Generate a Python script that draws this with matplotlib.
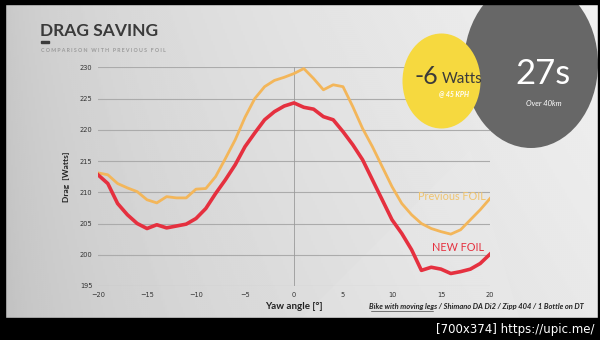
import numpy as np
import matplotlib
matplotlib.use("Agg")
import matplotlib.pyplot as plt
from matplotlib.patches import Ellipse, Rectangle, Polygon

# yaw angle in degrees and drag in watts
yaw = list(range(-20, 21))
previous_foil = [213.1, 212.8, 211.4, 210.7, 210.1, 208.8, 208.3, 209.3, 209.1, 209.1,
                 210.5, 210.6, 212.5, 215.4, 218.4, 222.0, 225.0, 226.9, 227.9, 228.4,
                 229.0, 229.8, 228.2, 226.4, 227.2, 226.9, 223.7, 220.2, 217.3, 214.1,
                 210.9, 208.2, 206.4, 205.0, 204.2, 203.7, 203.3, 204.0, 205.6, 207.2,
                 209.0]
new_foil = [212.8, 211.4, 208.2, 206.4, 205.0, 204.2, 204.8, 204.3, 204.6, 204.9,
            205.8, 207.4, 209.8, 212.0, 214.4, 217.3, 219.5, 221.6, 222.9, 223.8,
            224.3, 223.6, 223.3, 222.1, 221.6, 219.7, 217.6, 215.2, 212.0, 208.8,
            205.6, 203.4, 200.8, 197.5, 198.0, 197.7, 197.0, 197.3, 197.7, 198.6,
            200.1]
x_ticks = [-20, -15, -10, -5, 0, 5, 10, 15, 20]
y_ticks = [195, 200, 205, 210, 215, 220, 225, 230]

ORANGE = "#f3b65a"
RED = "#e5303f"
DARK = "#3a3a3a"
FONT = ["Lato", "DejaVu Sans"]

fig = plt.figure(figsize=(6, 3.4), dpi=100)

# background gradient
bg = fig.add_axes([0, 0, 1, 1], zorder=0)
gx = np.linspace(0, 1, 300)
gy = np.linspace(0, 1, 170)
GX, GY = np.meshgrid(gx, gy)
shade = 0.77 + 0.17 * np.sqrt(GX) - 0.03 * GY
bg.imshow(shade, cmap="gray", vmin=0, vmax=1, aspect="auto",
          extent=[0, 600, 340, 0], interpolation="bilinear")
bg.add_patch(Polygon([[300, 320], [470, 150], [520, 320]], closed=True,
                     facecolor="white", alpha=0.08, edgecolor="none"))
bg.set_xlim(0, 600)
bg.set_ylim(340, 0)
bg.axis("off")

# main chart
ax = fig.add_axes([98 / 600, 54 / 340, 392 / 600, 218.7 / 340], zorder=2)
ax.set_facecolor("none")
for y in y_ticks:
    ax.axhline(y, color="#ababab", lw=0.8, zorder=1)
ax.axvline(0, color="#9a9a9a", lw=0.6, zorder=1)
ax.plot(yaw, previous_foil, color=ORANGE, lw=2.0, zorder=3, solid_joinstyle="round")
ax.plot(yaw, new_foil, color=RED, lw=2.6, zorder=4, solid_joinstyle="round")
ax.set_xlim(-20, 20)
ax.set_ylim(195, 230)
ax.set_xticks(x_ticks)
ax.set_yticks(y_ticks)
ax.tick_params(length=0, labelsize=4.8, labelcolor="#333333", pad=4)
for s in ax.spines.values():
    s.set_visible(False)
ax.set_xlabel("Yaw angle [°]", fontsize=7, fontweight="bold", color="#222222",
              family=FONT, labelpad=3)
ax.set_ylabel("Drag  [Watts]", fontsize=6, fontweight="bold", color="#222222",
              family=FONT, labelpad=7)
ax.text(19.6, 209.4, "Previous FOIL", color="#f0c46e", fontsize=7.8, ha="right",
        va="center", family=FONT, zorder=5)
ax.text(19.4, 201.1, "NEW FOIL", color=RED, fontsize=7.8, ha="right",
        va="center", family=FONT, zorder=5)

# overlay in pixel coordinates: title, circles, notes, frame
ov = fig.add_axes([0, 0, 1, 1], zorder=3)
ov.set_facecolor("none")
ov.set_xlim(0, 600)
ov.set_ylim(340, 0)
ov.axis("off")

ov.text(40, 31, "DRAG SAVING", fontsize=12.5, fontweight="bold", color=DARK,
        family=FONT, va="center")
ov.add_patch(Rectangle((41, 41), 8, 1.5, color=DARK))
ov.text(41, 51, "C O M P A R I S O N   W I T H   P R E V I O U S   F O I L",
        fontsize=3.8, fontweight="bold", color="#9a9a9a", family=FONT, va="center")

ov.add_patch(Ellipse((531, 64), 134, 168, facecolor="#676767", edgecolor="none"))
ov.add_patch(Ellipse((441.5, 81), 78, 95, facecolor="#f6d93f", edgecolor="none"))
ov.text(426, 77, "-6", fontsize=18, color=DARK, family=FONT, ha="center", va="center")
ov.text(462, 79, "Watts", fontsize=11, color=DARK, family=FONT, ha="center", va="center")
ov.text(454, 94, "@ 45 KPH", fontsize=5, color="white", family=FONT,
        fontweight="bold", style="italic", ha="center", va="center")
ov.text(543, 74, "27s", fontsize=25, color="white", family=FONT,
        ha="center", va="center")
ov.text(544, 103, "Over 40km", fontsize=5.5, color="white", family=FONT,
        style="italic", ha="center", va="center")

ov.text(584, 307, "Bike with moving legs / Shimano DA Di2 / Zipp 404 / 1 Bottle on DT",
        fontsize=5.4, color="#222222", family=FONT, fontweight="bold",
        style="italic", ha="right", va="center")
ov.plot([371, 433], [310.5, 310.5], color="#222222", lw=0.4)

# black frame
ov.add_patch(Rectangle((0, 0), 600, 4, color="black"))
ov.add_patch(Rectangle((0, 0), 5, 340, color="black"))
ov.add_patch(Rectangle((598, 0), 2, 340, color="black"))
ov.add_patch(Rectangle((0, 318), 600, 22, color="black"))
ov.text(595, 330, "[700x374] https://upic.me/", fontsize=8.5, color="white",
        ha="right", va="center")

fig.savefig("out.png", dpi=100)
